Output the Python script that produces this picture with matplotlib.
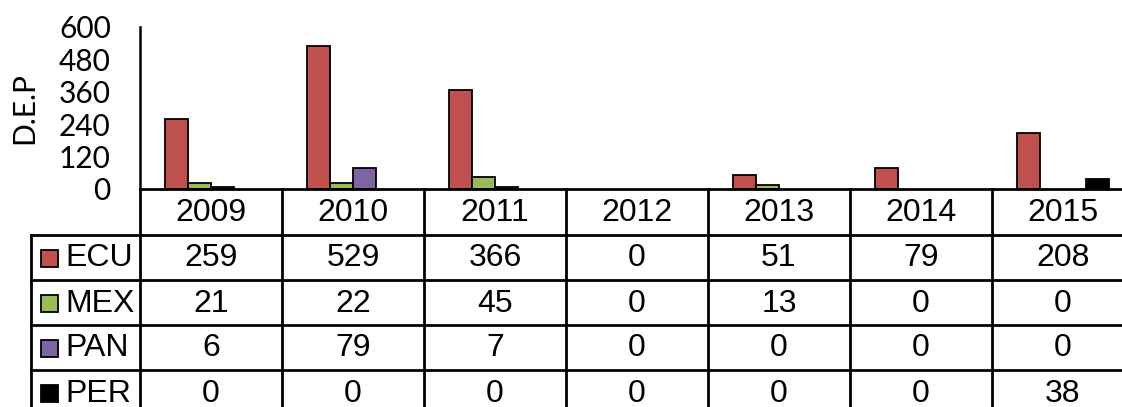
import matplotlib
matplotlib.use("Agg")
import matplotlib.pyplot as plt
from matplotlib.patches import Rectangle

years = ["2009", "2010", "2011", "2012", "2013", "2014", "2015"]
series = ["ECU", "MEX", "PAN", "PER"]
ecu = [259, 529, 366, 0, 51, 79, 208]
mex = [21, 22, 45, 0, 13, 0, 0]
pan = [6, 79, 7, 0, 0, 0, 0]
per = [0, 0, 0, 0, 0, 0, 38]
yticks = [0, 120, 240, 360, 480, 600]
colors = ["#C0504D", "#9BBB59", "#8064A2", "#000000"]
values = [ecu, mex, pan, per]

W, H = 1122, 407
fig = plt.figure(figsize=(W / 100, H / 100), dpi=100)

# pixel layout
x0, colw = 140, 142
ax_top, base = 27, 189
hdr_bot, rowh = 235, 45
left_x = 31
ncol = len(years)
right = x0 + colw * ncol

def fx(p):
    return p / W

def fy(p):
    return 1 - p / H

ax = fig.add_axes([fx(x0), fy(base), fx(right) - fx(x0), fy(ax_top) - fy(base)])
ax.set_xlim(0, ncol)
ax.set_ylim(0, 600)
bw = 23 / colw
for k, (vals, c) in enumerate(zip(values, colors)):
    xs = [i + 0.5 + (k - 1.5) * bw for i in range(ncol)]
    lws = [1.3 if v > 0 else 0 for v in vals]
    ax.bar(xs, vals, width=bw, color=c, edgecolor="black", linewidth=lws, zorder=3)
ax.set_yticks(yticks)
ax.set_yticklabels([str(t) for t in yticks], fontfamily="Lato", fontsize=21.5)
ax.tick_params(axis="y", length=0, pad=21)
ax.set_xticks([])
for s in ["top", "right", "bottom"]:
    ax.spines[s].set_visible(False)
ax.spines["left"].set_linewidth(1.8)
ax.patch.set_visible(False)
fig.text(fx(24), fy(108), "D.E.P", rotation=90, fontfamily="Lato", fontsize=21.5,
         ha="center", va="center")

# table overlay
ov = fig.add_axes([0, 0, 1, 1])
ov.set_xlim(0, W)
ov.set_ylim(H, 0)
ov.axis("off")
ov.patch.set_visible(False)
lw = 2.0
for i in range(ncol + 1):
    ov.plot([x0 + i * colw] * 2, [base, H + 5], color="black", lw=lw)
ov.plot([left_x, left_x], [hdr_bot, H + 5], color="black", lw=lw)
ov.plot([x0, right], [base, base], color="black", lw=lw)
for r in range(len(series)):
    y = hdr_bot + r * rowh
    ov.plot([left_x, right], [y, y], color="black", lw=lw)

tfont = dict(fontfamily="Liberation Sans", fontsize=23)
for i, yr in enumerate(years):
    ov.text(x0 + colw * (i + 0.5), (base + hdr_bot) / 2 + 1, yr, ha="center", va="center", **tfont)
for r, (name, vals, c) in enumerate(zip(series, values, colors)):
    yc = hdr_bot + rowh * (r + 0.5) + 1
    ov.add_patch(Rectangle((41, yc - 8.5), 17, 17, facecolor=c, edgecolor="black", lw=1.3))
    ov.text(65, yc, name, ha="left", va="center", **tfont)
    for i, v in enumerate(vals):
        ov.text(x0 + colw * (i + 0.5), yc, str(v), ha="center", va="center", **tfont)

fig.savefig("out.png", dpi=100)
